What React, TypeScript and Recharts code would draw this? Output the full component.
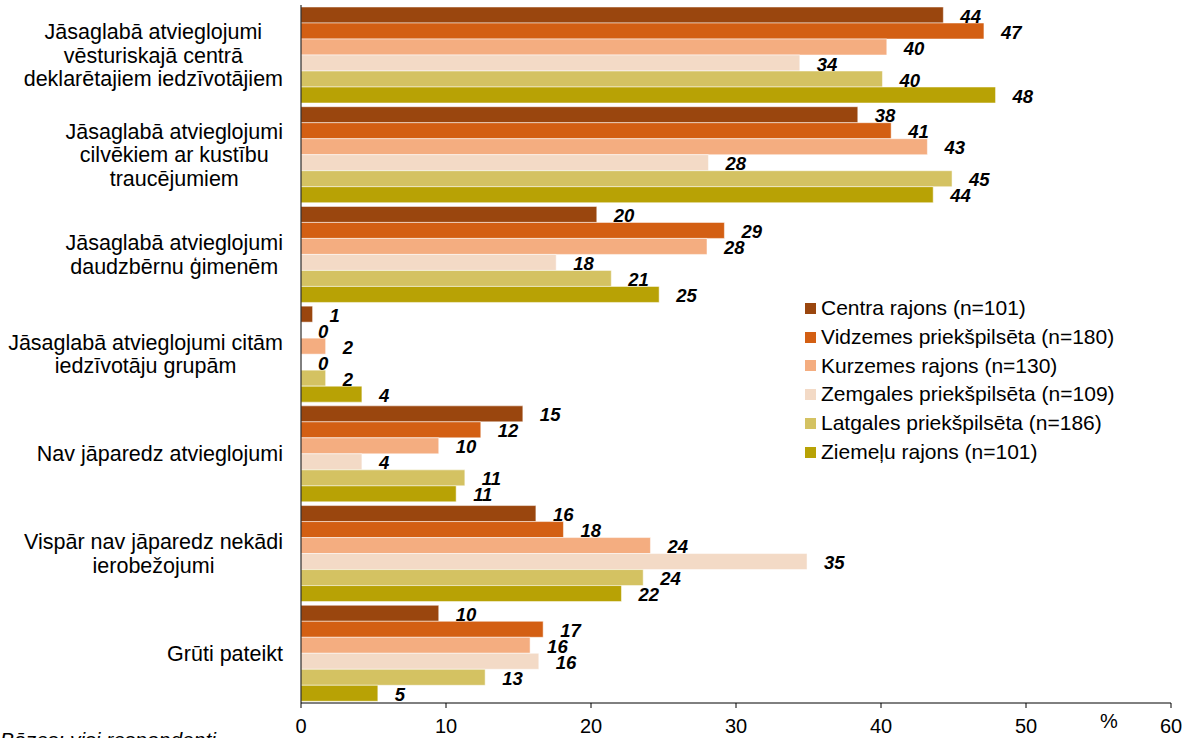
import React from 'react';
import { BarChart, Bar, XAxis, YAxis, LabelList, Legend, Label } from 'recharts';

const FONT = "'Liberation Sans', Arial, sans-serif";

const categories = [
  'Jāsaglabā atvieglojumi\nvēsturiskajā centrā\ndeklarētajiem iedzīvotājiem',
  'Jāsaglabā atvieglojumi\ncilvēkiem ar kustību\ntraucējumiem',
  'Jāsaglabā atvieglojumi\ndaudzbērnu ģimenēm',
  'Jāsaglabā atvieglojumi citām\niedzīvotāju grupām',
  'Nav jāparedz atvieglojumi',
  'Vispār nav jāparedz nekādi\nierobežojumi',
  'Grūti pateikt',
];

const centra = [44.3, 38.4, 20.4, 0.8, 15.3, 16.2, 9.5];
const vidzemes = [47.1, 40.7, 29.2, 0, 12.4, 18.1, 16.7];
const kurzemes = [40.4, 43.2, 28.0, 1.7, 9.5, 24.1, 15.8];
const zemgales = [34.4, 28.1, 17.6, 0, 4.2, 34.9, 16.4];
const latgales = [40.1, 44.9, 21.4, 1.7, 11.3, 23.6, 12.7];
const ziemelu = [47.9, 43.6, 24.7, 4.2, 10.7, 22.1, 5.3];

const seriesKeys = ['centra', 'vidzemes', 'kurzemes', 'zemgales', 'latgales', 'ziemelu'];
const seriesNames = [
  'Centra rajons (n=101)',
  'Vidzemes priekšpilsēta (n=180)',
  'Kurzemes rajons (n=130)',
  'Zemgales priekšpilsēta (n=109)',
  'Latgales priekšpilsēta (n=186)',
  'Ziemeļu rajons (n=101)',
];
const seriesColors = ['#9A460E', '#D35F13', '#F4AD80', '#F3DAC6', '#D4C262', '#B8A205'];
const seriesValues = [centra, vidzemes, kurzemes, zemgales, latgales, ziemelu];

const xTicks = [0, 10, 20, 30, 40, 50, 60];

const data = categories.map((name, i) => {
  const row: any = { name };
  seriesKeys.forEach((k, s) => {
    row[k] = seriesValues[s][i];
  });
  return row;
});

let measureCtx: CanvasRenderingContext2D | null = null;
function measure(text: string, font: string): number {
  if (!measureCtx) {
    const c = document.createElement('canvas');
    measureCtx = c.getContext('2d');
  }
  if (!measureCtx) return text.length * 10;
  measureCtx.font = font;
  return measureCtx.measureText(text).width;
}

const CAT_SIZE = 21.5;
const CAT_LINE = 23.5;

const CategoryTick = (props: any) => {
  const { x, y, payload } = props;
  const lines: string[] = String(payload.value).split('\n');
  const maxW = Math.max(...lines.map((l) => measure(l, `${CAT_SIZE}px ${FONT}`)));
  const cx = x - maxW / 2;
  const startY = y - ((lines.length - 1) * CAT_LINE) / 2;
  return (
    <text textAnchor="middle" fontFamily={FONT} fontSize={CAT_SIZE} fill="#000">
      {lines.map((l, i) => (
        <tspan key={i} x={cx} y={startY + i * CAT_LINE} dy="0.36em">
          {l}
        </tspan>
      ))}
    </text>
  );
};

const XTick = (props: any) => {
  const { x, y, payload } = props;
  return (
    <text x={x} y={y + 25} textAnchor="middle" fontFamily={FONT} fontSize={20} fill="#000">
      {payload.value}
    </text>
  );
};

const renderValueLabel = (props: any) => {
  const { x, y, width, height, value } = props;
  return (
    <text
      x={Number(x) + Number(width) + 17}
      y={Number(y) + Number(height) / 2 + 7.5}
      fontFamily={FONT}
      fontSize={18.5}
      fontWeight="bold"
      fontStyle="italic"
      fill="#000"
      textAnchor="start"
    >
      {Math.round(Number(value))}
    </text>
  );
};

const LegendContent = () => (
  <div style={{ fontFamily: FONT, fontSize: 21, color: '#000' }}>
    {seriesNames.map((n, i) => (
      <div key={n} style={{ display: 'flex', alignItems: 'center', height: 28.8 }}>
        <span
          style={{
            display: 'inline-block',
            width: 11,
            height: 11,
            background: seriesColors[i],
            marginRight: 5,
          }}
        />
        <span style={{ whiteSpace: 'nowrap', lineHeight: '28.8px' }}>{n}</span>
      </div>
    ))}
  </div>
);

const PercentLabel = (props: any) => {
  const vb = props.viewBox || {};
  return (
    <text x={vb.x + vb.width - 62} y={728} textAnchor="middle" fontFamily={FONT} fontSize={20} fill="#000">
      %
    </text>
  );
};

const minSize = (value: any) => (Number(value) === 0 ? 0.01 : 0);

export default function App() {
  return (
    <div style={{ position: 'absolute', left: 0, top: 0, width: 1193, height: 738, background: '#fff' }}>
      <BarChart
        width={1193}
        height={738}
        data={data}
        layout="vertical"
        margin={{ top: 5, right: 22, bottom: 5, left: 0 }}
        barCategoryGap={2}
        barGap={0}
      >
        <XAxis
          type="number"
          domain={[0, 60]}
          ticks={xTicks}
          interval={0}
          height={30}
          axisLine={{ stroke: '#000', strokeWidth: 1 }}
          tickLine={{ stroke: '#000', strokeWidth: 1 }}
          tickSize={5}
          tickMargin={0}
          tick={<XTick />}
        >
          <Label content={<PercentLabel />} />
        </XAxis>
        <YAxis
          type="category"
          dataKey="name"
          width={301}
          axisLine={{ stroke: '#000', strokeWidth: 1 }}
          tickLine={false}
          tickSize={0}
          tickMargin={18}
          interval={0}
          tick={<CategoryTick />}
        />
        <Legend
          layout="horizontal"
          verticalAlign="middle"
          align="center"
          content={<LegendContent />}
          wrapperStyle={{ position: 'absolute', left: 805, top: 294, width: 360, height: 180 }}
        />
        {seriesKeys.map((k, i) => (
          <Bar
            key={k}
            dataKey={k}
            name={seriesNames[i]}
            fill={seriesColors[i]}
            stroke="#ffffff"
            strokeOpacity={0.5}
            strokeWidth={1}
            minPointSize={minSize}
            isAnimationActive={false}
          >
            <LabelList dataKey={k} content={renderValueLabel} />
          </Bar>
        ))}
      </BarChart>
      <div
        style={{
          position: 'absolute',
          left: 0,
          top: 728,
          fontFamily: FONT,
          fontStyle: 'italic',
          fontSize: 21,
          whiteSpace: 'nowrap',
          color: '#000',
        }}
      >
        Bāzes: visi respondenti
      </div>
    </div>
  );
}
